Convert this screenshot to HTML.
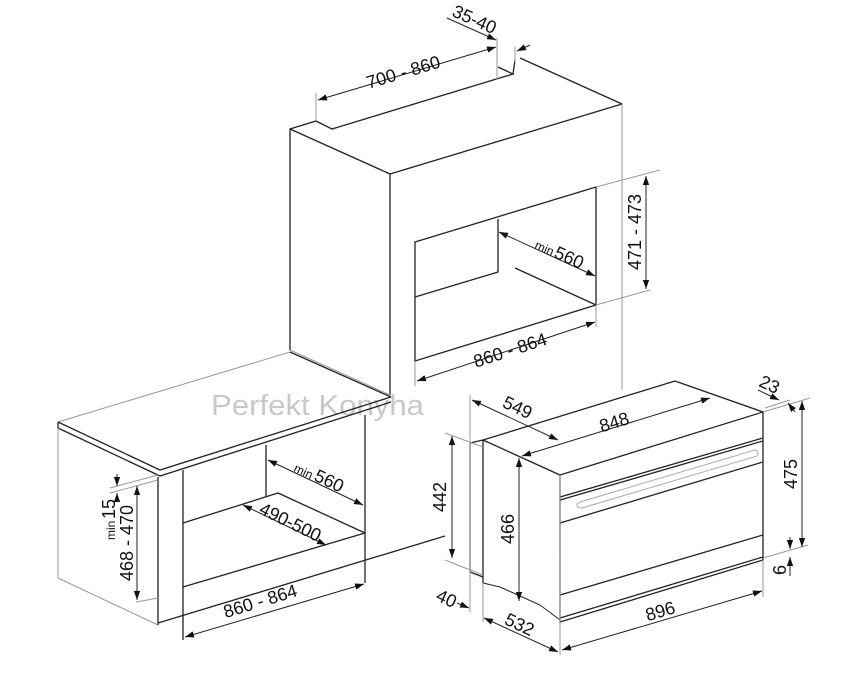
<!DOCTYPE html>
<html><head><meta charset="utf-8"><style>
html,body{margin:0;padding:0;background:#fff}
svg{display:block}
text{font-family:"Liberation Sans",sans-serif;font-size:18px;fill:#111}
.d{stroke:#222;stroke-width:1.3;fill:none}
.g{stroke:#999;stroke-width:1;fill:none}
.t{stroke:#222;stroke-width:1;fill:none}
</style></head><body>
<svg width="850" height="680" viewBox="0 0 850 680" xmlns="http://www.w3.org/2000/svg">
<defs>
<marker id="a" viewBox="0 0 10 10" refX="10" refY="5" markerWidth="9" markerHeight="9" orient="auto-start-reverse" markerUnits="userSpaceOnUse"><path d="M0,1.5 L10,5 L0,8.5 z" fill="#111"/></marker>
</defs>

<!-- TOP CABINET -->
<polyline class="d" points="290,350 290,129 316,121 332,129 513,74 498,67"/>
<line class="d" x1="513" y1="74" x2="515" y2="60"/>
<line class="d" x1="520" y1="58" x2="622" y2="104"/>
<line class="d" x1="290" y1="129" x2="390" y2="174"/>
<line class="d" x1="390" y1="174" x2="622" y2="104"/>
<line class="d" x1="390" y1="174" x2="390" y2="395"/>
<line class="g" x1="622" y1="104" x2="622" y2="390"/>
<line class="g" x1="290" y1="350" x2="390" y2="395"/>
<polygon class="d" points="415,242 596,187 596,305 415,361"/>
<polyline class="d" points="498,219 498,272 415,297"/>
<line class="d" x1="515" y1="268" x2="596" y2="305"/>
<!-- dims top -->
<line class="g" x1="316" y1="93" x2="316" y2="121"/>
<line class="g" x1="497" y1="38" x2="497" y2="80"/>
<line class="g" x1="515" y1="47" x2="515" y2="62"/>
<line class="t" x1="318" y1="100" x2="496" y2="47" marker-start="url(#a)" marker-end="url(#a)"/>
<text transform="translate(405,78) rotate(-16.6)" text-anchor="middle">700 - 860</text>
<line class="t" x1="447" y1="18" x2="496" y2="40" marker-end="url(#a)"/>
<line class="t" x1="530" y1="45" x2="517" y2="51" marker-end="url(#a)"/>
<text transform="translate(472,25) rotate(24)" text-anchor="middle">35-40</text>
<line class="g" x1="596" y1="187" x2="660" y2="170"/>
<line class="g" x1="596" y1="305" x2="650" y2="290"/>
<line class="t" x1="646" y1="176" x2="646" y2="289" marker-start="url(#a)" marker-end="url(#a)"/>
<text transform="translate(641,232) rotate(-90)" text-anchor="middle">471 - 473</text>
<line class="t" x1="499" y1="232" x2="595" y2="276" marker-start="url(#a)" marker-end="url(#a)"/>
<text transform="translate(534,248) rotate(24)" style="font-size:12px">min</text>
<text transform="translate(553,257) rotate(24)">560</text>
<line class="g" x1="415" y1="361" x2="415" y2="386"/>
<line class="g" x1="596" y1="305" x2="596" y2="327"/>
<line class="t" x1="417" y1="381" x2="595" y2="322" marker-start="url(#a)" marker-end="url(#a)"/>
<text transform="translate(512,356) rotate(-18)" text-anchor="middle">860 - 864</text>

<!-- watermark -->
<text x="211" y="415" textLength="213" lengthAdjust="spacingAndGlyphs" style="font-size:29px;fill:#c8c8c8">Perfekt Konyha</text>

<!-- LEFT COUNTER CABINET -->
<line class="g" x1="58" y1="422" x2="290" y2="352"/>
<line class="d" x1="290" y1="352" x2="391" y2="397"/>
<polyline class="d" points="58,422 160,470 391,397"/>
<polyline class="d" points="58,428 160,476 391,402"/>
<line class="d" x1="58" y1="422" x2="58" y2="428"/>
<line class="g" x1="58" y1="428" x2="58" y2="578"/>
<line class="g" x1="58" y1="578" x2="158" y2="625"/>
<line class="d" x1="158" y1="477" x2="158" y2="625"/>
<line class="d" x1="158" y1="623" x2="445" y2="536"/>
<line class="d" x1="183" y1="470" x2="183" y2="640"/>
<line class="d" x1="365" y1="415" x2="365" y2="583"/>
<line class="d" x1="266" y1="445" x2="266" y2="497"/>
<polyline class="d" points="183,523 278,493 365,533"/>
<line class="d" x1="183" y1="587" x2="365" y2="533"/>
<line class="t" x1="268" y1="460" x2="363" y2="505" marker-start="url(#a)" marker-end="url(#a)"/>
<text transform="translate(293,471) rotate(25)" style="font-size:12px">min</text>
<text transform="translate(313,480) rotate(25)">560</text>
<line class="t" x1="243" y1="505" x2="326" y2="545" marker-start="url(#a)" marker-end="url(#a)"/>
<text transform="translate(258,513) rotate(26)">490-500</text>
<line class="t" x1="185" y1="637" x2="364" y2="584" marker-start="url(#a)" marker-end="url(#a)"/>
<text transform="translate(262,607) rotate(-17)" text-anchor="middle">860 - 864</text>
<line class="g" x1="110" y1="488" x2="158" y2="475"/>
<line class="g" x1="110" y1="493" x2="158" y2="480"/>
<line class="g" x1="136" y1="602" x2="158" y2="598"/>
<line class="t" x1="137" y1="486" x2="137" y2="600" marker-start="url(#a)" marker-end="url(#a)"/>
<text transform="translate(133,543) rotate(-90)" text-anchor="middle">468 - 470</text>
<line class="t" x1="117" y1="474" x2="117" y2="486" marker-end="url(#a)"/>
<line class="t" x1="117" y1="502" x2="117" y2="493" marker-end="url(#a)"/>
<text transform="translate(115,540) rotate(-90)" style="font-size:12px">min</text>
<text transform="translate(115,519) rotate(-90)">15</text>

<!-- RIGHT OVEN -->
<polyline class="d" points="483,440 675,381 763,412"/>
<line class="d" x1="483" y1="440" x2="560" y2="475"/>
<line class="d" x1="470" y1="443" x2="483" y2="440"/>
<line class="d" x1="470" y1="443" x2="470" y2="572"/>
<line class="d" x1="470" y1="572" x2="483" y2="577"/>
<line class="d" x1="483" y1="440" x2="483" y2="583"/>
<polyline class="t" points="483,583 500,587 520,596 540,605 560,620"/>
<polygon class="d" points="560,475 763,412 763,560 560,622"/>
<line class="d" x1="560" y1="497" x2="763" y2="438"/>
<line class="d" x1="560" y1="500" x2="763" y2="441"/>
<line class="d" x1="560" y1="523" x2="763" y2="462"/>
<line class="d" x1="560" y1="595" x2="763" y2="535"/>
<line class="d" x1="560" y1="618" x2="763" y2="557"/>
<path d="M580,502 L755,450 Q760,452 757,456 L582,508 Q576,508 577,504 Z" fill="none" stroke="#aaa" stroke-width="1"/>
<!-- dims oven -->
<line class="g" x1="470" y1="395" x2="470" y2="612"/>
<line class="g" x1="560" y1="475" x2="560" y2="655"/>
<line class="t" x1="472" y1="400" x2="558" y2="440" marker-start="url(#a)" marker-end="url(#a)"/>
<text transform="translate(515,413) rotate(25)" text-anchor="middle">549</text>
<line class="t" x1="522" y1="456" x2="710" y2="398" marker-start="url(#a)" marker-end="url(#a)"/>
<text transform="translate(616,428) rotate(-17)" text-anchor="middle">848</text>
<line class="g" x1="763" y1="412" x2="810" y2="398"/>
<line class="g" x1="765" y1="408" x2="790" y2="400"/>
<line class="t" x1="758" y1="390" x2="779" y2="400" marker-end="url(#a)"/>
<line class="t" x1="795" y1="412" x2="788" y2="403" marker-end="url(#a)"/>
<text transform="translate(767,390) rotate(25)" text-anchor="middle">23</text>
<line class="g" x1="763" y1="558" x2="808" y2="545"/>
<line class="t" x1="802" y1="401" x2="802" y2="547" marker-start="url(#a)" marker-end="url(#a)"/>
<text transform="translate(797,474) rotate(-90)" text-anchor="middle">475</text>
<line class="t" x1="790" y1="537" x2="790" y2="549" marker-end="url(#a)"/>
<line class="t" x1="790" y1="576" x2="790" y2="557" marker-end="url(#a)"/>
<text transform="translate(786,570) rotate(-90)" text-anchor="middle">6</text>
<line class="g" x1="445" y1="433" x2="483" y2="447"/>
<line class="g" x1="445" y1="560" x2="483" y2="575"/>
<line class="t" x1="452" y1="436" x2="452" y2="558" marker-start="url(#a)" marker-end="url(#a)"/>
<text transform="translate(446,497) rotate(-90)" text-anchor="middle">442</text>
<line class="t" x1="519" y1="458" x2="519" y2="601" marker-start="url(#a)" marker-end="url(#a)"/>
<text transform="translate(514,529) rotate(-90)" text-anchor="middle">466</text>
<line class="t" x1="457" y1="603" x2="469" y2="608" marker-end="url(#a)"/>
<text transform="translate(444,604) rotate(25)" text-anchor="middle">40</text>
<line class="g" x1="483" y1="583" x2="483" y2="622"/>
<line class="t" x1="484" y1="618" x2="558" y2="652" marker-start="url(#a)" marker-end="url(#a)"/>
<text transform="translate(517,630) rotate(25)" text-anchor="middle">532</text>
<line class="g" x1="763" y1="560" x2="763" y2="597"/>
<line class="t" x1="562" y1="650" x2="762" y2="591" marker-start="url(#a)" marker-end="url(#a)"/>
<text transform="translate(662,617) rotate(-16.5)" text-anchor="middle">896</text>
</svg>
</body></html>
